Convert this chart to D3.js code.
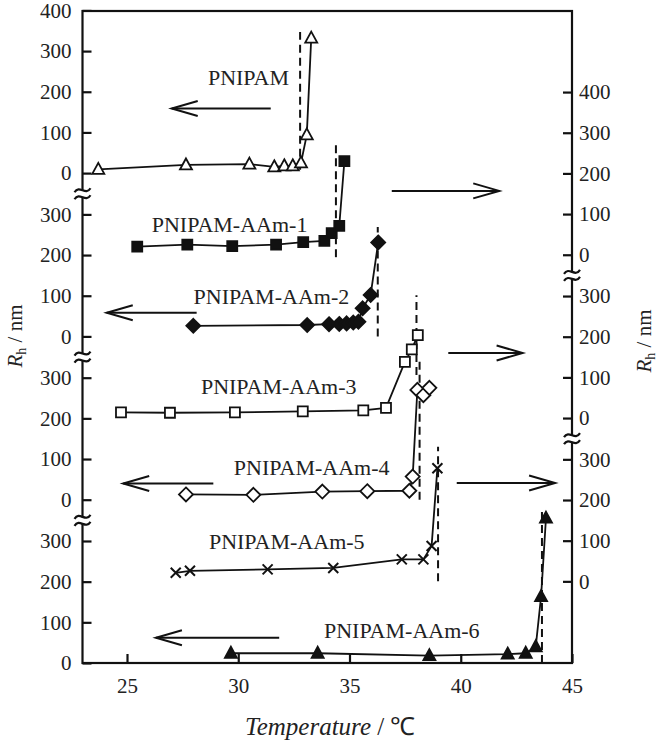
<!DOCTYPE html>
<html>
<head>
<meta charset="utf-8">
<script src="https://cdn.jsdelivr.net/npm/d3@7"></script>
<style>
  body { margin: 0; background: #fff; }
  svg text { font-family: "Liberation Serif", "Times New Roman", serif; fill: #222; }
</style>
</head>
<body>
<svg id="chart" width="661" height="744"></svg>
<script>
// values: temperature (°C) and R_h (nm, in each panel's own axis)
const pnipamT = [23.71, 27.65, 30.50, 31.62, 32.07, 32.45, 32.82, 33.08, 33.28]
const pnipamR = [9, 20, 22, 15.5, 18, 18, 25, 94, 332]

const aam1T = [25.46, 27.71, 29.73, 31.70, 32.92, 33.87, 34.20, 34.54, 34.77]
const aam1R = [20, 25, 21, 25, 31, 34, 53, 71, 230]

const aam2T = [27.98, 33.10, 34.08, 34.54, 34.87, 35.17, 35.40, 35.59, 35.95, 36.29]
const aam2R = [26, 28, 30, 30.5, 32, 34, 36, 69, 102, 231]

const aam3T = [24.73, 26.93, 29.85, 32.90, 35.62, 36.64, 37.49, 37.80, 38.07]
const aam3R = [14, 13, 14, 16.5, 19, 25, 138, 169, 204]

const aam4T = [27.65, 30.68, 33.78, 35.80, 37.69, 37.84, 38.05, 38.32, 38.59]
const aam4R = [13, 12, 20, 21, 22, 57, 270, 257, 275]

const aam5T = [27.19, 27.83, 31.32, 34.27, 37.35, 38.32, 38.69, 38.95]
const aam5R = [21, 26, 29.5, 33, 54, 54, 87, 278]

const aam6T = [29.67, 33.57, 38.59, 42.11, 42.92, 43.37, 43.61, 43.83]
const aam6R = [24, 24, 18, 22, 24, 40, 163, 356]

// transition temperature (dashed) and the R_h span it covers
const lcstT = [32.78, 34.39, 36.27, 38.01, 38.15, 38.98, 43.65]
const lcstR = [[8, 347], [-6, 270], [0, 269], [106, 302], [0, 339], [0, 331], [0, 381]]

const xTicks = [25, 30, 35, 40, 45]
const leftTicks = [[0, 100, 200, 300], [0, 100, 200, 300], [0, 100, 200, 300], [0, 100, 200, 300, 400]]
const rightTicks = [[0, 100, 200, 300], [0, 100, 200, 300], [0, 100, 200, 300, 400]]

const names = ["PNIPAM", "PNIPAM-AAm-1", "PNIPAM-AAm-2", "PNIPAM-AAm-3", "PNIPAM-AAm-4", "PNIPAM-AAm-5", "PNIPAM-AAm-6"]

// layout
const plot = {left: 82.5, right: 572, top: 11, bottom: 663}
const step = 163.3          // distance between stacked panels
const per100 = 40.67        // px per 100 nm

const svg = d3.select("#chart")

const x = d3.scaleLinear().domain([23, 45]).range([plot.left, plot.right])

const panelY = (side, k) => {
    const zero = (side === "L" ? plot.bottom : plot.bottom - step / 2) - k * step
    return d3.scaleLinear().domain([0, 100]).range([zero, zero - per100])
}

const series = [
    {T: pnipamT, R: pnipamR, side: "L", k: 3, mark: "triangle", open: true,
        label: [30.46, 216], arrow: [31.46, 27.01, 159]},
    {T: aam1T, R: aam1R, side: "R", k: 2, mark: "square", open: false,
        label: [29.61, 56], arrow: [36.90, 41.73, 157]},
    {T: aam2T, R: aam2R, side: "L", k: 2, mark: "diamond", open: false,
        label: [31.49, 80], arrow: [28.13, 24.09, 58]},
    {T: aam3T, R: aam3R, side: "R", k: 1, mark: "square", open: true,
        label: [31.82, 58], arrow: [39.44, 42.78, 160]},
    {T: aam4T, R: aam4R, side: "L", k: 1, mark: "diamond", open: true,
        label: [33.30, 61], arrow: [28.88, 24.83, 40]},
    {T: aam5T, R: aam5R, side: "R", k: 0, mark: "cross", open: true,
        label: [32.18, 79], arrow: [39.82, 44.24, 242]},
    {T: aam6T, R: aam6R, side: "L", k: 0, mark: "triangle", open: false,
        label: [37.35, 61], arrow: [31.84, 26.30, 62]}
]
series.forEach((s, i) => {
    s.name = names[i]
    s.y = panelY(s.side, s.k)
    s.dashT = lcstT[i]
    s.dashR = lcstR[i]
})

const markerPath = (type) => {
    switch (type) {
        case "triangle": return "M0,-6.5L6,4.5L-6,4.5Z"
        case "square": return "M-5,-5h10v10h-10Z"
        case "diamond": return "M0,-7L7,0L0,7L-7,0Z"
        case "cross": return "M-5,-5L5,5M5,-5L-5,5"
    }
}

// dashed transition lines
series.forEach(s => {
    svg.append("line")
        .attr("x1", x(s.dashT)).attr("x2", x(s.dashT))
        .attr("y1", s.y(s.dashR[0])).attr("y2", s.y(s.dashR[1]))
        .attr("stroke", "#111").attr("stroke-width", 2)
        .attr("stroke-dasharray", "8,5")
})

// connecting lines
const line = (s) => d3.line().x(d => x(d[0])).y(d => s.y(d[1]))
series.forEach(s => {
    svg.append("path")
        .datum(d3.zip(s.T, s.R))
        .attr("d", line(s))
        .attr("fill", "none").attr("stroke", "#111").attr("stroke-width", 1.8)
})

// markers
series.forEach(s => {
    svg.append("g").selectAll("path")
        .data(d3.zip(s.T, s.R))
        .enter().append("path")
        .attr("transform", d => `translate(${x(d[0])},${s.y(d[1])})`)
        .attr("d", markerPath(s.mark))
        .attr("fill", s.mark === "cross" ? "none" : (s.open ? "#fff" : "#111"))
        .attr("stroke", "#111")
        .attr("stroke-width", s.mark === "cross" ? 2 : 1.8)
})

// series labels
series.forEach(s => {
    svg.append("text")
        .attr("x", x(s.label[0])).attr("y", s.y(s.label[1]))
        .attr("text-anchor", "middle")
        .attr("font-size", 22)
        .text(s.name)
})

// arrows pointing to the axis used
series.forEach(s => {
    const [t0, t1, r] = s.arrow
    const x0 = x(t0), x1 = x(t1), yy = s.y(r)
    const dir = x1 > x0 ? 1 : -1
    const g = svg.append("g").attr("stroke", "#111").attr("stroke-width", 2).attr("fill", "none")
    g.append("line").attr("x1", x0).attr("x2", x1).attr("y1", yy).attr("y2", yy)
    g.append("path")
        .attr("d", `M${x1 - dir * 26},${yy - 7.5}L${x1},${yy}L${x1 - dir * 26},${yy + 7.5}`)
})

// frame
svg.append("rect")
    .attr("x", plot.left).attr("y", plot.top)
    .attr("width", plot.right - plot.left).attr("height", plot.bottom - plot.top)
    .attr("fill", "none").attr("stroke", "#111").attr("stroke-width", 2.2)

const styleAxis = (g) => {
    g.select(".domain").remove()
    g.selectAll("line").attr("stroke", "#111").attr("stroke-width", 2.2)
    g.selectAll("text").attr("font-size", 21).attr("font-family", null).attr("fill", "#222")
    g.attr("font-family", null)
}

leftTicks.forEach((ticks, k) => {
    svg.append("g")
        .attr("transform", `translate(${plot.left},0)`)
        .call(d3.axisLeft(panelY("L", k)).tickValues(ticks).tickFormat(d3.format("d"))
            .tickSizeInner(-9).tickSizeOuter(0).tickPadding(11))
        .call(styleAxis)
})

rightTicks.forEach((ticks, k) => {
    svg.append("g")
        .attr("transform", `translate(${plot.right},0)`)
        .call(d3.axisRight(panelY("R", k)).tickValues(ticks).tickFormat(d3.format("d"))
            .tickSizeInner(-9).tickSizeOuter(0).tickPadding(7))
        .call(styleAxis)
})

svg.append("g")
    .attr("transform", `translate(0,${plot.bottom})`)
    .call(d3.axisBottom(x).tickValues(xTicks).tickSizeInner(-9).tickSizeOuter(0).tickPadding(15))
    .call(styleAxis)

// axis breaks (≈) between stacked panels
const breakMark = (bx, by) => {
    const g = svg.append("g").attr("transform", `translate(${bx},${by})`)
    g.append("rect").attr("x", -4).attr("y", -3).attr("width", 8).attr("height", 6).attr("fill", "#fff")
    ;[-3.5, 3.5].forEach(dy => {
        g.append("path")
            .attr("d", `M-8,${dy + 2}C-3,${dy - 6} 3,${dy + 6} 8,${dy - 2}`)
            .attr("fill", "none").attr("stroke", "#111").attr("stroke-width", 2.2)
    })
}
for (let k = 0; k < 3; k++) {
    const yk = panelY("L", k), yn = panelY("L", k + 1)
    breakMark(plot.left, (yk(300) + yn(0)) / 2)
}
for (let k = 0; k < 2; k++) {
    const yk = panelY("R", k), yn = panelY("R", k + 1)
    breakMark(plot.right, (yk(300) + yn(0)) / 2)
}

// axis titles
svg.append("text")
    .attr("x", (plot.left + plot.right) / 2 + 3).attr("y", 735)
    .attr("text-anchor", "middle").attr("font-size", 25)
    .call(t => {
        t.append("tspan").attr("font-style", "italic").text("Temperature")
        t.append("tspan").text(" / ℃")
    })

const yTitle = (tx, ty) => {
    svg.append("text")
        .attr("transform", `translate(${tx},${ty}) rotate(-90)`)
        .attr("text-anchor", "middle").attr("font-size", 21)
        .call(t => {
            t.append("tspan").attr("font-style", "italic").text("R")
            t.append("tspan").attr("font-size", 14).attr("dy", 4).text("h")
            t.append("tspan").attr("dy", -4).text(" / nm")
        })
}
yTitle(22, 336)
yTitle(651, 341)
</script>
</body>
</html>
